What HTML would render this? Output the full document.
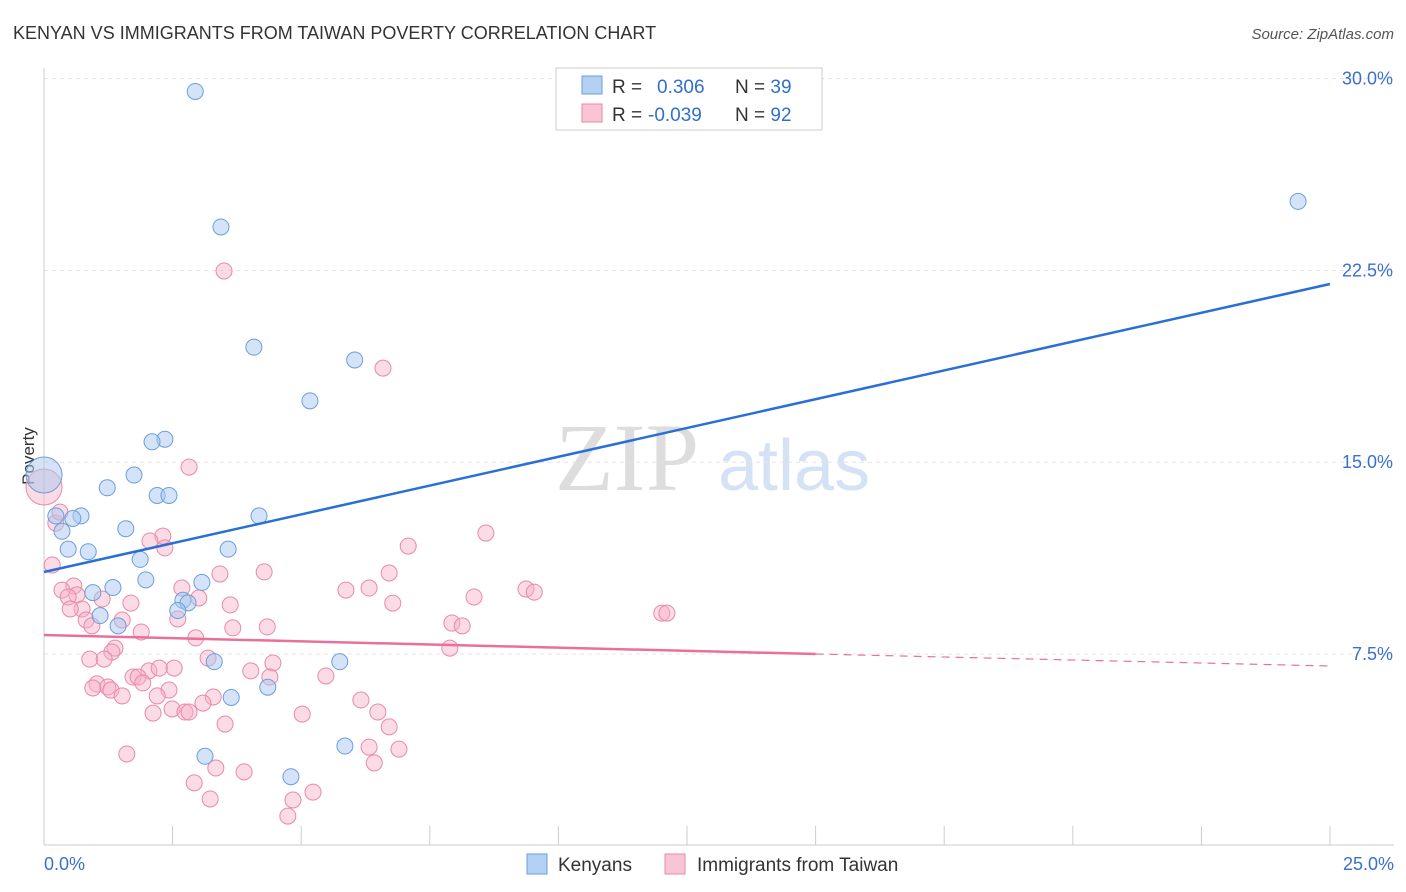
<!DOCTYPE html>
<html><head><meta charset="utf-8"><style>
body{margin:0;background:#fff;font-family:"Liberation Sans",sans-serif}
svg{display:block}
</style></head><body>
<svg id="c" width="1406" height="892">
<text x="13" y="39" font-size="18" fill="#333">KENYAN VS IMMIGRANTS FROM TAIWAN POVERTY CORRELATION CHART</text>
<text x="1394" y="39" font-size="15" fill="#555" font-style="italic" text-anchor="end">Source: ZipAtlas.com</text>
<text x="34" y="456" font-size="17" fill="#333" transform="rotate(-90 34 456)" text-anchor="middle">Poverty</text>
<text x="555" y="490" font-size="96" fill="#ddd" font-family="Liberation Serif,serif">ZIP</text>
<text x="718" y="490" font-size="72" fill="#d5e2f5">atlas</text>
<g id="grid"></g><g id="marks"></g>
<g>
<rect x="556" y="68" width="266" height="62" fill="#fff" stroke="#ccc"/>
<rect x="582" y="76" width="20" height="18" fill="#b3d0f5" stroke="#6a9fdc"/>
<rect x="582" y="104" width="20" height="18" fill="#f9c4d4" stroke="#e88aa8"/>
<text x="612" y="93" font-size="19" fill="#333">R = <tspan fill="#2f6fd0" x="657">0.306</tspan><tspan x="735" fill="#333">N = </tspan><tspan fill="#2f6fd0">39</tspan></text>
<text x="612" y="121" font-size="19" fill="#333">R = <tspan fill="#2f6fd0" x="648">-0.039</tspan><tspan x="735" fill="#333">N = </tspan><tspan fill="#2f6fd0">92</tspan></text>
</g>
<g>
<rect x="527" y="854" width="20" height="20" fill="#b3d0f5" stroke="#6a9fdc"/>
<text x="558" y="871" font-size="19" fill="#333">Kenyans</text>
<rect x="665" y="854" width="20" height="20" fill="#f9c4d4" stroke="#e88aa8"/>
<text x="697" y="871" font-size="19" fill="#333">Immigrants from Taiwan</text>
</g>
</svg>
<script>
const yTicks=[7.5,15,22.5,30];
const yTickLabels=["7.5%","15.0%","22.5%","30.0%"];
const xTickLabels=["0.0%","25.0%"];
const kenX=[2.94,3.44,24.38,4.08,6.04,5.17,2.35,2.1,1.75,1.23,2.2,2.43,4.18,0.72,0.56,0.23,0.35,1.59,0.86,0.47,3.58,1.87,1.98,3.07,1.34,0.95,2.7,2.8,2.6,1.09,1.44,3.31,5.75,4.35,3.64,3.13,5.85,4.8,0.0];
const kenY=[29.5,24.2,25.2,19.5,19.0,17.4,15.9,15.8,14.5,14.0,13.7,13.7,12.9,12.9,12.8,12.9,12.3,12.4,11.5,11.6,11.6,11.2,10.4,10.3,10.1,9.9,9.6,9.5,9.2,9.0,8.6,7.2,7.2,6.2,5.8,3.5,3.9,2.7,14.5];
const kenR=[8,8,8,8,8,8,8,8,8,8,8,8,8,8,8,8,8,8,8,8,8,8,8,8,8,8,8,8,8,8,8,8,8,8,8,8,8,8,18];
const twPx=[224,383,189,486,408,163,150,165,56,60,52,44,264,220,389,346,369,526,534,474,182,199,74,62,77,68,102,131,230,393,82,70,86,122,92,178,233,267,141,196,452,462,662,667,450,115,112,90,104,208,273,174,149,159,133,138,251,270,326,97,93,108,111,122,143,169,157,213,203,361,153,172,185,189,302,378,225,389,127,369,399,374,216,244,194,313,210,293,288];
const twPy=[271,368,467,533,546,536,541,548,523,512,565,487,572,574,573,590,588,589,592,597,588,598,586,590,595,597,599,603,605,603,609,609,620,620,626,619,628,627,632,638,623,626,613,613,648,648,652,659,659,658,663,668,671,668,677,677,671,677,676,684,688,687,690,696,683,690,696,697,703,700,713,709,712,712,714,712,724,727,754,747,749,763,768,772,783,792,799,800,816];
const twX=twPx.map(p=>+((p-44)/51.44).toFixed(2));
const twY=twPy.map(p=>+(7.5+(654-p)/25.57).toFixed(2));
const ns="http://www.w3.org/2000/svg";
const X=v=>44+v*51.44, Y=v=>654-(v-7.5)*25.57;
function mk(t,a,p){const e=document.createElementNS(ns,t);for(const k in a)e.setAttribute(k,a[k]);p.appendChild(e);return e;}
const g=document.getElementById('grid'), m=document.getElementById('marks');
yTicks.forEach((t,i)=>{
 const l=mk('line',{x1:44,x2:1394,y1:Y(t),y2:Y(t),stroke:'#e4e4e4','stroke-dasharray':'4 4'},g);
 
 
 const tx=mk('text',{x:1393,y:Y(t)+6,'font-size':18,fill:'#3b6fcf','text-anchor':'end'},g);tx.textContent=yTickLabels[i];
 
 
});
mk('line',{x1:44,x2:44,y1:68,y2:845,stroke:'#ccc'},g);
mk('line',{x1:44,x2:1394,y1:845,y2:845,stroke:'#ccc'},g);
for(let i=0;i<=10;i++){const t=mk('line',{x1:X(i*2.5),x2:X(i*2.5),y1:826,y2:845,stroke:'#ccc'},g);
 
 }
[[0,44,'start'],[25,1394,'end']].forEach((d,i)=>{const t=mk('text',{x:d[1],y:870,'font-size':18,fill:'#3b6fcf','text-anchor':d[2]},g);t.textContent=xTickLabels[i];
 
 });
twX.forEach((x,i)=>{const c=mk('circle',{cx:X(x),cy:Y(twY[i]),r:i==11?18:8,fill:'rgba(246,176,198,0.45)',stroke:'#e88aa8','stroke-width':1},m);
 
 });
kenX.forEach((x,i)=>{const c=mk('circle',{cx:X(x),cy:Y(kenY[i]),r:kenR[i],fill:'rgba(169,200,240,0.5)',stroke:'#6a9fdc','stroke-width':1},m);
 
 });
const bl=mk('line',{x1:X(0),y1:572,x2:X(25),y2:284,stroke:'#2a6fd6','stroke-width':2.5},m);


const pl=mk('line',{x1:X(0),y1:635,x2:X(15),y2:654,stroke:'#e8709a','stroke-width':2.5},m);


const pd=mk('line',{x1:X(15),y1:654,x2:X(25),y2:666,stroke:'#e8709a','stroke-width':1.2,'stroke-dasharray':'8 6'},m);


</script>
</body></html>
